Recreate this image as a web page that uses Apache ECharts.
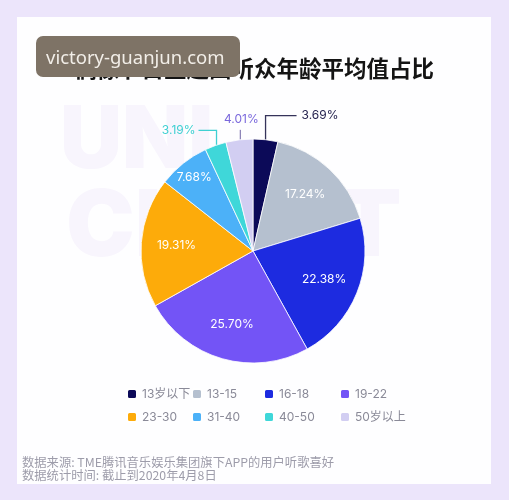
<!DOCTYPE html>
<html><head><meta charset="utf-8">
<script src="https://cdn.jsdelivr.net/npm/echarts@6/dist/echarts.min.js"></script>
<style>html,body{margin:0;padding:0;background:#ece5fb;} #c{width:509px;height:500px;}</style>
</head><body><div id="c"></div>
<script>
const categories = ['13岁以下','13-15','16-18','19-22','23-30','31-40','40-50','50岁以上'];
const values = [3.69, 17.24, 22.38, 25.70, 19.31, 7.68, 3.19, 4.01];
const sliceColors = ['#0c0a58','#b5c0cf','#1d2be0','#7354f6','#fdab0a','#4cb1f8','#3fd7d9','#d2cef2'];
const outsideLabelColors = {0:'#25234f', 6:'#3fd0d2', 7:'#7a68dc'};
const outsideLineColors = {0:'#35335a', 6:'#3fd0d2', 7:'#8e86b8'};
const legendColumns = [['13岁以下','23-30'],['13-15','31-40'],['16-18','40-50'],['19-22','50岁以上']];
const titleText = '偶像节目主题曲听众年龄平均值占比';
const footnotes = ['数据来源: TME腾讯音乐娱乐集团旗下APP的用户听歌喜好','数据统计时间: 截止到2020年4月8日'];
const watermark = 'victory-guanjun.com';

const CX = 253, CY = 251, R = 112;
const FONT = 'Inter, "Noto Sans CJK SC", sans-serif';

const chart = echarts.init(document.getElementById('c'), null, {renderer:'canvas'});

const data = categories.map((name, i) => {
  const item = {name, value: values[i], itemStyle:{color: sliceColors[i]}};
  if (outsideLabelColors[i]) {
    item.label = {position:'outside', color: outsideLabelColors[i], fontSize: 12};
    item.labelLine = {show:true, lineStyle:{color: outsideLineColors[i], width:1.3}};
  }
  return item;
});

const legendLefts = [126, 191, 263, 339];
const legends = legendColumns.map((col, j) => ({
  orient:'vertical', left: legendLefts[j], top: 387, padding: 0,
  data: col, itemWidth: 10, itemHeight: 10, itemGap: 9, icon:'roundRect',
  selectedMode:false,
  textStyle:{color:'#8a8a98', fontSize:12, fontFamily: FONT, lineHeight:14}
}));

const option = {
  animation:false,
  backgroundColor:'#ece5fb',
  legend: legends,
  graphic: [
    {type:'rect', z:-10, shape:{x:17,y:17,width:474,height:467}, style:{fill:'#fefeff'}},
    {type:'text', z:-5, x:60, y:142, style:{text:'UNI', font:'900 86px Inter, sans-serif', fill:'#f8f5fd', verticalAlign:'middle'}},
    {type:'text', z:-5, x:66, y:228, style:{text:'CHART', font:'900 92px Inter, sans-serif', fill:'#f8f5fd', verticalAlign:'middle'}},
    {type:'text', z:50, x:74, y:68, style:{text:titleText, font:'bold 22.5px "Noto Sans CJK SC", sans-serif', fill:'#141414', verticalAlign:'middle'}},
    {type:'rect', z:100, shape:{x:36,y:36,width:204,height:41,r:7}, style:{fill:'#7e7366'}},
    {type:'text', z:101, x:46, y:59, style:{text:watermark, font:'18.5px "Noto Sans", sans-serif', fill:'#f2eee8', verticalAlign:'middle'}},
    {type:'text', z:50, x:22, y:462, style:{text:footnotes[0], font:'12.3px "Noto Sans CJK SC", sans-serif', fill:'#9d9caa', verticalAlign:'middle'}},
    {type:'text', z:50, x:22, y:475, style:{text:footnotes[1], font:'12.3px "Noto Sans CJK SC", sans-serif', fill:'#9d9caa', verticalAlign:'middle'}}
  ],
  series:[{
    type:'pie',
    center:[CX, CY],
    radius:[0, R],
    startAngle:90,
    clockwise:true,
    avoidLabelOverlap:false,
    itemStyle:{borderColor:'#ffffff', borderWidth:0.8},
    label:{show:true, position:'inside', color:'#ffffff', fontSize:12, fontFamily: FONT,
      formatter: p => p.value.toFixed(2) + '%'},
    labelLine:{show:false, length:12, length2:20},
    labelLayout: function(p){
      const i = p.dataIndex;
      if (outsideLabelColors[i]) {
        const pts = p.labelLinePoints;
        if (!pts) return {};
        const x0 = pts[0][0], y0 = pts[0][1];
        if (i === 0) {
          return {x:x0+36, y:y0-24, align:'left', verticalAlign:'middle',
            labelLinePoints:[[x0,y0],[x0,y0-24],[x0+31,y0-24]]};
        } else if (i === 7) {
          return {x:x0+2, y:y0-14, align:'center', verticalAlign:'bottom',
            labelLinePoints:[[x0+1,y0],[x0+1,y0-10],[x0+1,y0-10]]};
        } else {
          return {x:x0-20, y:y0-15, align:'right', verticalAlign:'middle',
            labelLinePoints:[[x0+1,y0],[x0+1,y0-15],[x0-17,y0-15]]};
        }
      }
      const r = p.labelRect;
      const lx = r.x + r.width/2, ly = r.y + r.height/2;
      const k = i === 5 ? 1.6 : 1.3;
      return {x: CX + (lx-CX)*k, y: CY + (ly-CY)*k, align:'center', verticalAlign:'middle'};
    },
    data: data
  }]
};
chart.setOption(option);
</script></body></html>
